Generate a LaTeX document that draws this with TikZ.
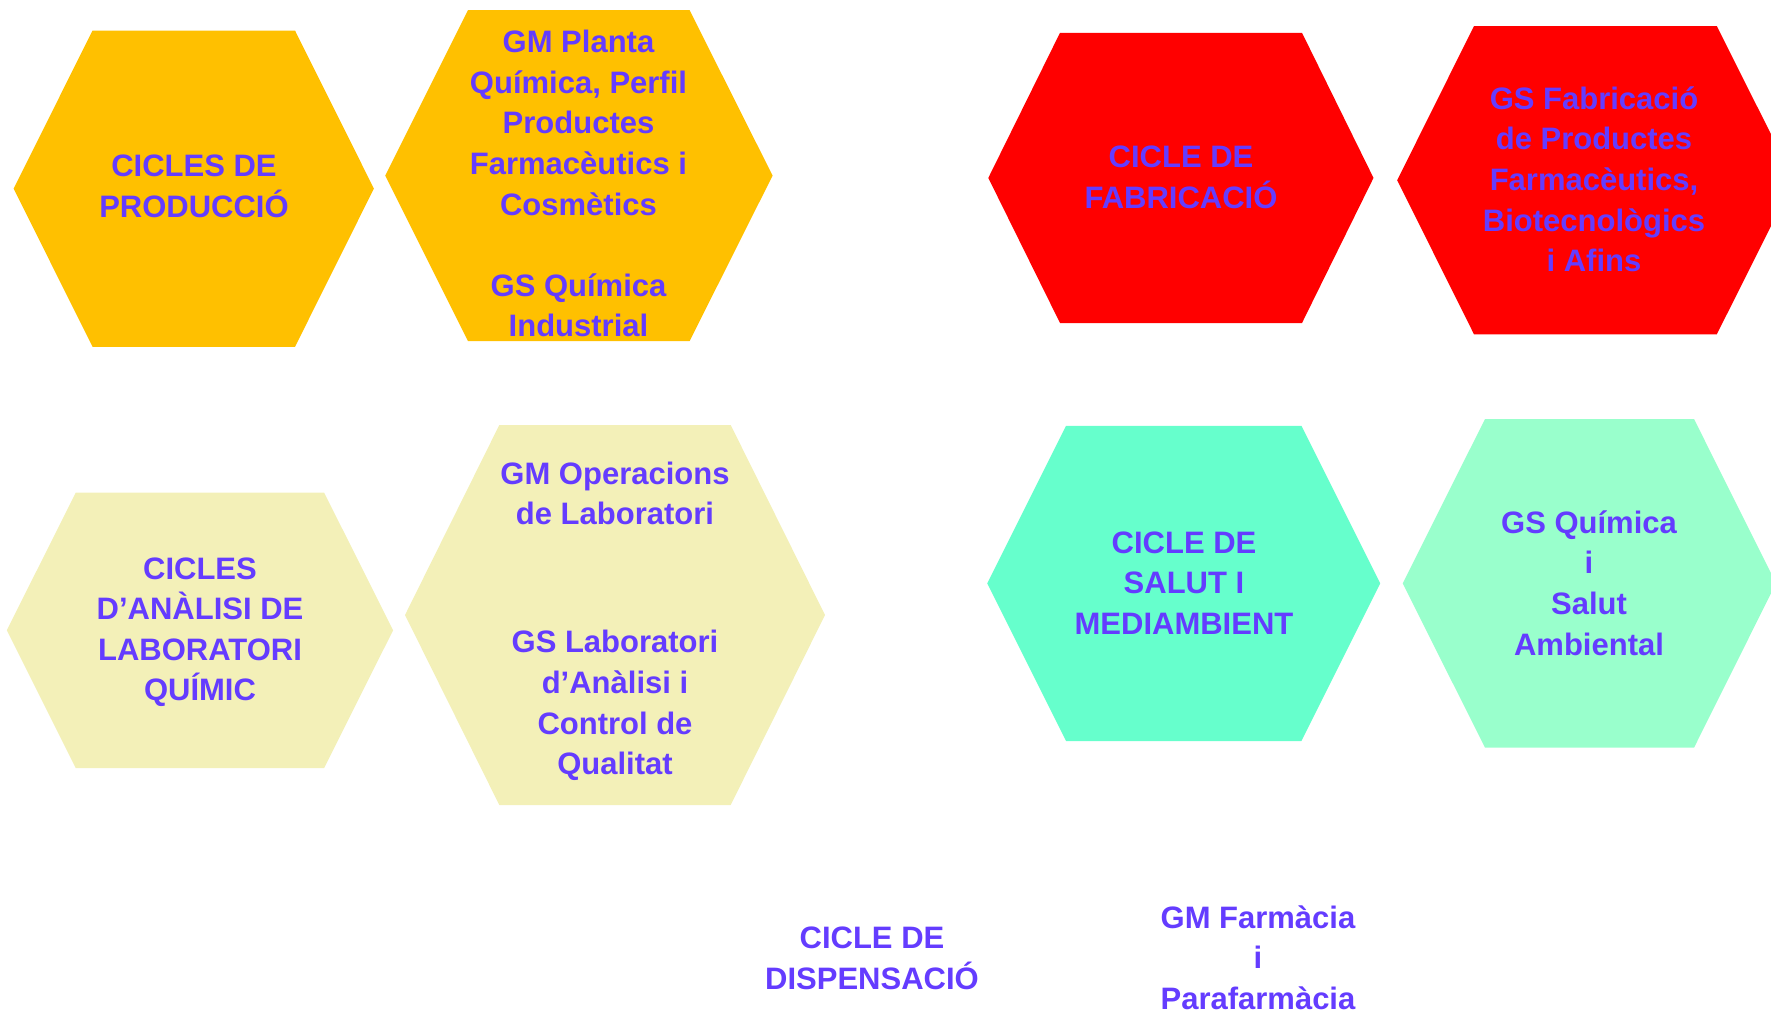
\documentclass[tikz,border=0pt]{standalone}
\usepackage{fontspec}
\setmainfont{Liberation Sans}
\definecolor{txt}{RGB}{100,60,255}
\definecolor{orangehex}{RGB}{255,192,0}
\definecolor{redhex}{RGB}{255,0,0}
\definecolor{paleyel}{RGB}{243,240,184}
\definecolor{tealhex}{RGB}{102,255,204}
\definecolor{mint}{RGB}{153,255,204}
\tikzset{
  lbl/.style={anchor=north, inner sep=0pt, align=center, text=txt,
    font=\fontsize{31}{40.6}\selectfont\bfseries},
  hexfill/.style={fill=#1, draw=none}
}
\newcommand{\fst}{\rule{0pt}{32pt}}
\begin{document}
\begin{tikzpicture}[x=1pt,y=-1pt]
\useasboundingbox (0,0) rectangle (1771,1013);
\clip (0,0) rectangle (1771,1013);
% hexagons
\path[hexfill=orangehex] (13.6,188.6) -- (92.6,30.5) -- (295.0,30.5) -- (373.9,188.6) -- (295.0,346.8) -- (92.6,346.8) -- cycle;
\path[hexfill=orangehex] (385.2,175.6) -- (468.0,10.2) -- (689.6,10.2) -- (772.6,175.6) -- (689.6,341.1) -- (468.0,341.1) -- cycle;
\path[hexfill=redhex] (988.3,177.9) -- (1060.0,32.8) -- (1302.0,32.8) -- (1373.5,177.9) -- (1302.0,323.0) -- (1060.0,323.0) -- cycle;
\path[hexfill=redhex] (1397.2,180.2) -- (1474.0,26.0) -- (1716.8,26.0) -- (1794.0,180.2) -- (1716.8,334.3) -- (1474.0,334.3) -- cycle;
\path[hexfill=paleyel] (6.8,630.3) -- (75.8,492.5) -- (324.1,492.5) -- (393.1,630.3) -- (324.1,768.1) -- (75.8,768.1) -- cycle;
\path[hexfill=paleyel] (405.0,615.0) -- (499.3,425.0) -- (730.7,425.0) -- (825.0,615.0) -- (730.7,805.0) -- (499.3,805.0) -- cycle;
\path[hexfill=tealhex] (987.2,583.4) -- (1066.0,425.8) -- (1301.4,425.8) -- (1380.2,583.4) -- (1301.4,741.0) -- (1066.0,741.0) -- cycle;
\path[hexfill=mint] (1402.7,583.3) -- (1485.0,419.0) -- (1694.0,419.0) -- (1776.0,583.3) -- (1694.0,747.7) -- (1485.0,747.7) -- cycle;
% labels
\node[lbl] (prod) at (194,144.7) {\fst CICLES DE\\PRODUCCIÓ};
\node[lbl] (planta) at (578.5,20.5) {\fst GM Planta\\Química, Perfil\\Productes\\Farmacèutics i\\Cosmètics\\[40.6pt]GS Química\\Industrial};
\node[lbl] (fab) at (1181,135.7) {\fst CICLE DE\\FABRICACIÓ};
\node[lbl] (gsfab) at (1594,77) {\fst GS Fabricació\\de Productes\\Farmacèutics,\\Biotecnològics\\i Afins};
\node[lbl] (anal) at (200,546.8) {\fst CICLES\\D’ANÀLISI DE\\LABORATORI\\QUÍMIC};
\node[lbl] (oper) at (615,452) {\fst GM Operacions\\de Laboratori\\[87.5pt]GS Laboratori\\d’Anàlisi i\\Control de\\Qualitat};
\node[lbl] (salut) at (1184,521) {\fst CICLE DE\\SALUT I\\MEDIAMBIENT};
\node[lbl] (gsq) at (1589,501) {\fst GS Química\\i\\Salut\\Ambiental};
\node[lbl] (disp) at (872,916.2) {\fst CICLE DE\\DISPENSACIÓ};
\node[lbl] (farm) at (1258,895.8) {\fst GM Farmàcia\\i\\Parafarmàcia};
\end{tikzpicture}
\end{document}
